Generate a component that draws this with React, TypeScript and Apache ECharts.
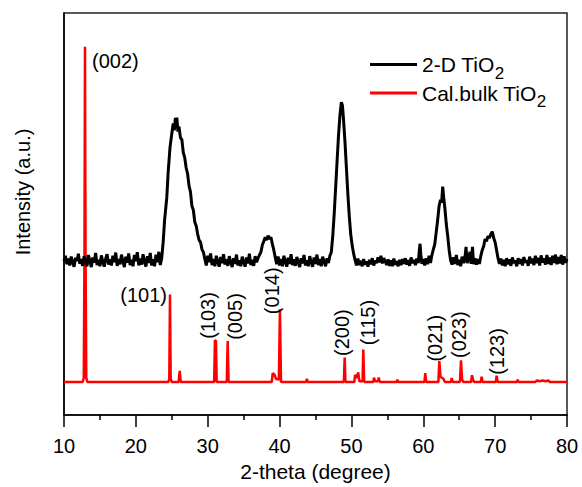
import React, { useEffect, useRef } from "react";
import * as echarts from "echarts";

// x-axis ticks (2-theta, degree)
const xTickValues = [10, 20, 30, 40, 50, 60, 70, 80];

// Series names
const seriesNames = ["2-D TiO2", "Cal.bulk TiO2"];

// Measured 2-D TiO2 pattern [2-theta, intensity a.u.] (offset upward)
const blackPattern: [number, number][] = [
  [10.0, 38.2], [10.2, 39.6], [10.4, 37.5], [10.6, 38.9], [10.8, 37.2], [11.0, 39.4], [11.2, 38.0], [11.4, 36.9],
  [11.6, 39.1], [11.8, 38.3], [12.0, 40.1], [12.2, 37.6], [12.4, 38.8], [12.6, 37.1], [12.8, 39.5], [13.0, 38.2],
  [13.2, 37.0], [13.4, 39.8], [13.6, 38.4], [13.8, 36.8], [14.0, 39.2], [14.2, 37.9], [14.4, 40.3], [14.6, 37.3],
  [14.8, 38.6], [15.0, 37.0], [15.2, 39.7], [15.4, 38.1], [15.6, 36.9], [15.8, 38.9], [16.0, 40.0], [16.2, 37.4],
  [16.4, 38.7], [16.6, 37.2], [16.8, 39.6], [17.0, 38.0], [17.2, 40.4], [17.4, 37.1], [17.6, 38.8], [17.8, 37.5],
  [18.0, 39.9], [18.2, 38.2], [18.4, 36.8], [18.6, 39.4], [18.8, 37.9], [19.0, 40.2], [19.2, 37.3], [19.4, 38.6],
  [19.6, 37.0], [19.8, 39.8], [20.0, 38.3], [20.2, 40.5], [20.4, 37.2], [20.6, 38.9], [20.8, 37.4], [21.0, 40.0],
  [21.2, 38.1], [21.4, 36.9], [21.6, 39.5], [21.8, 37.8], [22.0, 40.3], [22.2, 37.2], [22.4, 38.7], [22.6, 37.0],
  [22.8, 39.9], [23.0, 38.0], [23.2, 40.6], [23.4, 37.3], [23.6, 39.0], [23.8, 43.0], [24.0, 48.5], [24.3, 54.0],
  [24.5, 60.5], [24.75, 66.5], [25.0, 70.0], [25.2, 72.5], [25.35, 70.8], [25.5, 73.9], [25.6, 71.5], [25.7, 74.0],
  [25.85, 70.5], [26.0, 71.8], [26.2, 69.0], [26.4, 68.5], [26.6, 65.3], [26.8, 64.0], [27.0, 61.5], [27.2, 60.0],
  [27.4, 57.0], [27.6, 55.5], [27.8, 52.0], [28.0, 51.0], [28.2, 48.0], [28.4, 47.0], [28.6, 45.0], [28.8, 43.5],
  [29.0, 43.0], [29.2, 41.2], [29.4, 40.5], [29.6, 38.8], [29.8, 37.2], [30.0, 39.6], [30.2, 38.0], [30.4, 40.2],
  [30.6, 37.3], [30.8, 38.8], [31.0, 37.0], [31.2, 39.6], [31.4, 38.1], [31.6, 36.9], [31.8, 39.3], [32.0, 37.8],
  [32.2, 40.0], [32.4, 37.4], [32.6, 38.7], [32.8, 37.1], [33.0, 39.5], [33.2, 38.0], [33.4, 36.8], [33.6, 39.0],
  [33.8, 37.6], [34.0, 39.9], [34.2, 37.2], [34.4, 38.5], [34.6, 37.0], [34.8, 39.4], [35.0, 38.1], [35.2, 36.9],
  [35.4, 39.2], [35.6, 37.7], [35.8, 40.1], [36.0, 37.3], [36.2, 38.6], [36.4, 37.1], [36.6, 39.5], [36.8, 38.0],
  [37.0, 39.0], [37.2, 39.8], [37.4, 40.5], [37.6, 42.3], [37.8, 43.2], [38.0, 44.2], [38.2, 43.5], [38.4, 44.6],
  [38.6, 43.8], [38.8, 44.2], [39.0, 42.5], [39.2, 41.0], [39.4, 39.2], [39.6, 37.5], [39.8, 39.4], [40.0, 37.2],
  [40.2, 38.8], [40.4, 37.0], [40.6, 39.6], [40.8, 38.2], [41.0, 36.9], [41.2, 39.1], [41.4, 37.6], [41.6, 40.0],
  [41.8, 37.3], [42.0, 38.7], [42.2, 37.1], [42.4, 39.3], [42.6, 38.0], [42.8, 36.8], [43.0, 39.0], [43.2, 37.7],
  [43.4, 39.8], [43.6, 37.2], [43.8, 38.5], [44.0, 37.0], [44.2, 39.5], [44.4, 38.0], [44.6, 36.9], [44.8, 39.2],
  [45.0, 37.6], [45.2, 39.9], [45.4, 37.3], [45.6, 38.8], [45.8, 37.0], [46.0, 39.4], [46.2, 38.1], [46.4, 37.0],
  [46.6, 39.0], [46.8, 37.8], [47.0, 39.6], [47.2, 40.5], [47.4, 44.5], [47.6, 50.0], [47.8, 56.5], [48.0, 63.0],
  [48.2, 69.5], [48.4, 74.5], [48.6, 77.8], [48.75, 77.0], [48.9, 73.5], [49.1, 68.0], [49.3, 61.5], [49.5, 55.0],
  [49.7, 49.5], [49.9, 45.0], [50.1, 42.2], [50.3, 40.2], [50.5, 38.6], [50.7, 37.2], [50.9, 38.9], [51.1, 37.3],
  [51.3, 38.4], [51.5, 37.0], [51.7, 38.8], [51.9, 37.4], [52.1, 38.2], [52.3, 36.9], [52.5, 38.6], [52.7, 37.5],
  [52.9, 39.0], [53.1, 37.2], [53.3, 38.4], [53.5, 37.8], [53.7, 39.2], [53.9, 38.0], [54.1, 39.6], [54.3, 37.7],
  [54.5, 39.0], [54.7, 38.2], [54.9, 37.3], [55.1, 38.7], [55.3, 37.1], [55.5, 38.5], [55.7, 37.0], [55.9, 38.9],
  [56.1, 37.4], [56.3, 38.3], [56.5, 37.0], [56.7, 38.6], [56.9, 37.3], [57.1, 38.8], [57.3, 37.6], [57.5, 39.0],
  [57.7, 37.4], [57.9, 38.5], [58.1, 37.1], [58.3, 39.2], [58.5, 37.8], [58.7, 38.6], [58.9, 37.3], [59.1, 38.9],
  [59.3, 37.8], [59.45, 41.0], [59.55, 42.6], [59.65, 40.0], [59.8, 37.6], [60.0, 38.8], [60.2, 37.2], [60.4, 39.0],
  [60.6, 37.5], [60.8, 39.6], [61.0, 37.8], [61.2, 39.8], [61.4, 41.2], [61.6, 42.5], [61.8, 45.5], [62.0, 48.5],
  [62.2, 52.0], [62.4, 53.5], [62.55, 52.8], [62.7, 56.8], [62.85, 54.0], [63.0, 51.5], [63.2, 47.5], [63.4, 44.5],
  [63.6, 41.0], [63.8, 38.5], [64.0, 37.4], [64.2, 39.2], [64.4, 37.6], [64.6, 39.8], [64.8, 37.3], [65.0, 38.6],
  [65.2, 37.0], [65.4, 39.4], [65.6, 37.8], [65.8, 39.2], [65.95, 41.8], [66.1, 37.8], [66.3, 39.0], [66.5, 40.6],
  [66.65, 37.6], [66.85, 41.8], [67.0, 37.5], [67.2, 39.0], [67.4, 37.4], [67.6, 38.8], [67.8, 37.6], [68.0, 39.5],
  [68.2, 41.0], [68.4, 42.0], [68.6, 43.8], [68.8, 43.2], [69.0, 44.5], [69.2, 44.0], [69.4, 45.0], [69.6, 45.6],
  [69.8, 44.0], [70.0, 43.0], [70.2, 41.0], [70.4, 39.0], [70.6, 37.6], [70.8, 38.9], [71.0, 37.2], [71.2, 38.6],
  [71.4, 37.0], [71.6, 39.0], [71.8, 37.5], [72.0, 38.7], [72.2, 37.1], [72.4, 39.2], [72.6, 37.8], [72.8, 38.4],
  [73.0, 37.0], [73.2, 39.0], [73.4, 37.6], [73.6, 38.8], [73.8, 37.2], [74.0, 39.3], [74.2, 37.9], [74.4, 38.5],
  [74.6, 37.1], [74.8, 39.4], [75.0, 37.7], [75.2, 38.9], [75.4, 37.3], [75.6, 39.6], [75.8, 37.8], [76.0, 39.1],
  [76.2, 37.2], [76.4, 39.7], [76.6, 37.9], [76.8, 39.0], [77.0, 37.4], [77.2, 39.8], [77.4, 37.6], [77.6, 39.2],
  [77.8, 37.3], [78.0, 39.6], [78.2, 37.8], [78.4, 39.9], [78.6, 37.5], [78.8, 39.3], [79.0, 37.7], [79.2, 39.8],
  [79.4, 37.4], [79.6, 39.5], [79.8, 37.9], [80.0, 38.8],
];

// Calculated bulk TiO2 pattern [2-theta, intensity a.u.]
const redPattern: [number, number][] = [
  [10.0, 8.2], [12.6, 8.2], [12.75, 9.2], [12.85, 40.0], [12.92, 91.6], [13.0, 40.0], [13.1, 9.2], [13.25, 8.2],
  [24.5, 8.2], [24.65, 9.0], [24.75, 30.0], [24.85, 9.0], [25.0, 8.2],
  [25.95, 8.2], [26.1, 11.0], [26.25, 8.2],
  [30.9, 8.2], [31.0, 18.6], [31.15, 18.4], [31.25, 8.2],
  [32.65, 8.2], [32.78, 18.4], [32.9, 8.2],
  [38.9, 8.2], [39.05, 10.4], [39.3, 10.0], [39.5, 9.0], [39.9, 8.8], [40.05, 26.3], [40.2, 8.2],
  [43.7, 8.2], [43.8, 9.0], [43.9, 8.2],
  [48.95, 8.2], [49.06, 14.3], [49.17, 8.2],
  [50.4, 8.2], [50.5, 10.0], [50.7, 9.2], [50.95, 10.6], [51.1, 8.4], [51.55, 8.4], [51.65, 16.3], [51.78, 8.2],
  [53.05, 8.2], [53.14, 9.3], [53.3, 8.4], [53.7, 8.4], [53.8, 9.3], [53.95, 8.2],
  [56.3, 8.2], [56.4, 8.8], [56.5, 8.2],
  [60.15, 8.2], [60.28, 10.4], [60.4, 8.2],
  [62.1, 8.2], [62.23, 13.4], [62.4, 9.5], [62.8, 9.0], [63.0, 8.2],
  [63.85, 8.2], [63.95, 9.2], [64.1, 8.2],
  [65.1, 8.2], [65.25, 13.6], [65.4, 8.8], [65.6, 8.2],
  [66.65, 8.2], [66.78, 9.9], [66.95, 8.6], [67.1, 8.2],
  [68.0, 8.2], [68.12, 9.5], [68.25, 8.2],
  [70.1, 8.2], [70.2, 9.8], [70.35, 8.2],
  [73.05, 8.2], [73.13, 8.8], [73.25, 8.2],
  [75.6, 8.2], [75.8, 8.6], [76.2, 8.4], [76.6, 8.6], [77.0, 8.4], [77.4, 8.6], [77.6, 8.2],
  [80.0, 8.2],
];

// Miller index annotations
const peakLabels = ["(002)", "(101)", "(103)", "(005)", "(014)", "(200)", "(115)", "(021)", "(023)", "(123)"];
const peakLabelTheta = [13.9, 24.33, 30.04, 33.8, 38.95, 48.69, 52.3, 61.63, 64.97, 70.26];
const peakLabelIntensity = [88.1, 29.95, 24.75, 24.5, 30.9, 20.5, 23.0, 19.1, 20.0, 15.8];
const peakLabelRotate = [0, 0, 90, 90, 90, 90, 90, 90, 90, 90];
const peakLabelAlign = ["left", "right", "center", "center", "center", "center", "center", "center", "center", "center"];

const FONT = "'Liberation Sans', Arial, sans-serif";

export default function App() {
  const ref = useRef<HTMLDivElement>(null);

  useEffect(() => {
    if (!ref.current) return;
    const chart = echarts.init(ref.current, undefined, { renderer: "svg" });

    const labelData = peakLabels.map((t, i) => ({
      value: [peakLabelTheta[i], peakLabelIntensity[i]],
      name: t,
      label: {
        show: true,
        position: "inside",
        formatter: t,
        rotate: peakLabelRotate[i],
        align: peakLabelAlign[i],
        verticalAlign: "middle",
        color: "#000",
        opacity: 1,
        textBorderWidth: 0,
        textBorderColor: "transparent",
        fontSize: 20,
        fontFamily: FONT,
      },
    }));

    const option: any = {
      animation: false,
      backgroundColor: "#fff",
      textStyle: { fontFamily: FONT },
      grid: {
        left: 64,
        right: 15,
        top: 13,
        bottom: 70,
        show: true,
        borderColor: "#222",
        borderWidth: 1.5,
        backgroundColor: "transparent",
      },
      legend: {
        orient: "vertical",
        left: 370,
        top: 54,
        padding: 0,
        itemGap: 1,
        itemWidth: 47,
        itemHeight: 3,
        icon: "rect",
        data: seriesNames,
        formatter: (name: string) => `{n|${name.slice(0, -1)}}{s|${name.slice(-1)}}`,
        textStyle: {
          color: "#000",
          fontFamily: FONT,
          rich: {
            n: { fontSize: 21, fontFamily: FONT, color: "#000", verticalAlign: "middle", lineHeight: 34 },
            s: { fontSize: 17, fontFamily: FONT, color: "#000", verticalAlign: "bottom", lineHeight: 34 },
          },
        },
      },
      xAxis: {
        type: "value",
        min: xTickValues[0],
        max: xTickValues[xTickValues.length - 1],
        interval: 10,
        name: "2-theta (degree)",
        nameLocation: "middle",
        nameGap: 46,
        nameTextStyle: { fontSize: 21, color: "#000", fontFamily: FONT },
        axisLine: { show: true, onZero: false, lineStyle: { color: "#000", width: 1.5 } },
        axisTick: { show: true, inside: false, length: 12, lineStyle: { color: "#000", width: 1.5 } },
        minorTick: { show: true, splitNumber: 2, length: 5, lineStyle: { color: "#000", width: 1.5 } },
        axisLabel: { margin: 21, fontSize: 20, color: "#000", fontFamily: FONT },
        splitLine: { show: false },
      },
      yAxis: {
        type: "value",
        min: 0,
        max: 100,
        axisLine: { show: true, onZero: false, lineStyle: { color: "#000", width: 1.5 } },
        axisTick: { show: false },
        axisLabel: { show: false },
        splitLine: { show: false },
      },
      graphic: [
        {
          type: "text",
          x: 23,
          y: 192,
          rotation: Math.PI / 2,
          style: {
            text: "Intensity (a.u.)",
            fontSize: 20,
            fontFamily: FONT,
            fill: "#000",
            textAlign: "center",
            textVerticalAlign: "middle",
          },
        },
      ],
      series: [
        {
          name: seriesNames[0],
          type: "line",
          data: blackPattern,
          showSymbol: false,
          symbol: "none",
          lineStyle: { color: "#000", width: 3 },
          itemStyle: { color: "#000" },
          z: 3,
        },
        {
          name: seriesNames[1],
          type: "line",
          data: redPattern,
          showSymbol: false,
          symbol: "none",
          lineStyle: { color: "#ff0000", width: 2.5 },
          itemStyle: { color: "#ff0000" },
          z: 2,
        },
        {
          name: "labels",
          type: "scatter",
          symbolSize: 0,
          data: labelData,
          silent: true,
          itemStyle: { opacity: 1, color: "#000" },
          z: 4,
        },
      ],
    };

    chart.setOption(option);
    return () => chart.dispose();
  }, []);

  return (
    <div
      ref={ref}
      style={{ position: "fixed", left: 0, top: 0, width: 582, height: 487 }}
    />
  );
}
